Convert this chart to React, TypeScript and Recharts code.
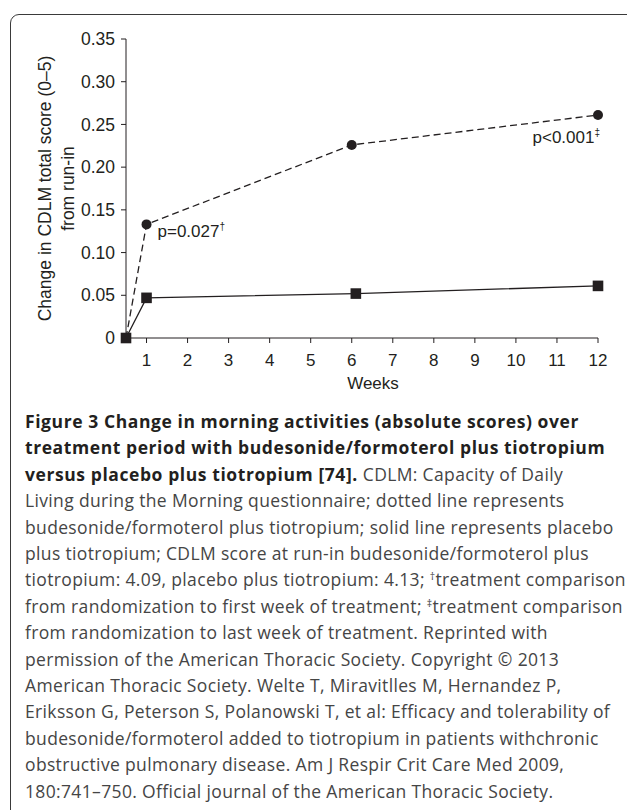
import React from 'react';
import { LineChart, Line, XAxis, YAxis } from 'recharts';

// budesonide/formoterol + tiotropium (dashed, circles)
const budWeeks = [0.5, 1, 6, 12];
const budChange = [0, 0.133, 0.226, 0.261];
const budNotes = ['', 'p=0.027', '', 'p<0.001'];
const budMarks = ['', '†', '', '‡'];

// placebo + tiotropium (solid, squares)
const plaWeeks = [0.5, 1, 6.1, 12];
const plaChange = [0, 0.047, 0.052, 0.061];

const xTicks = [0.5, 1, 2, 3, 4, 5, 6, 7, 8, 9, 10, 11, 12];
const yTicks = [0, 0.05, 0.1, 0.15, 0.2, 0.25, 0.3, 0.35];

const budData = budWeeks.map((w, i) => ({ week: w, change: budChange[i] }));
const plaData = plaWeeks.map((w, i) => ({ week: w, change: plaChange[i] }));

const INK = '#231f20';
const FONT = '"Liberation Sans", Arial, Helvetica, sans-serif';

const captionLines: { bold?: string; text: string }[] = [
  { bold: 'Figure 3 Change in morning activities (absolute scores) over', text: '' },
  { bold: 'treatment period with budesonide/formoterol plus tiotropium', text: '' },
  { bold: 'versus placebo plus tiotropium [74].', text: ' CDLM: Capacity of Daily' },
  { text: 'Living during the Morning questionnaire; dotted line represents' },
  { text: 'budesonide/formoterol plus tiotropium; solid line represents placebo' },
  { text: 'plus tiotropium; CDLM score at run-in budesonide/formoterol plus' },
  { text: 'tiotropium: 4.09, placebo plus tiotropium: 4.13; ^†treatment comparison' },
  { text: 'from randomization to first week of treatment; ^‡treatment comparison' },
  { text: 'from randomization to last week of treatment. Reprinted with' },
  { text: 'permission of the American Thoracic Society. Copyright © 2013' },
  { text: 'American Thoracic Society. Welte T, Miravitlles M, Hernandez P,' },
  { text: 'Eriksson G, Peterson S, Polanowski T, et al: Efficacy and tolerability of' },
  { text: 'budesonide/formoterol added to tiotropium in patients withchronic' },
  { text: 'obstructive pulmonary disease. Am J Respir Crit Care Med 2009,' },
  { text: '180:741–750. Official journal of the American Thoracic Society.' },
];

function renderCaptionText(t: string) {
  const m = t.match(/^(.*)\^(.)(.*)$/);
  if (!m) return t;
  return (
    <>
      {m[1]}
      <sup style={{ fontSize: '0.6em', verticalAlign: '0.55em', lineHeight: 0 }}>{m[2]}</sup>
      {m[3]}
    </>
  );
}

const NoteLabel = (props: any) => {
  const { x, y, index } = props;
  const note = budNotes[index];
  if (!note) return null;
  const last = index === budNotes.length - 1;
  return (
    <text
      x={last ? x + 2 : x + 11}
      y={last ? y + 28 : y + 13}
      textAnchor={last ? 'end' : 'start'}
      fontSize={17}
      fontFamily={FONT}
      fill={INK}
    >
      {note}
      <tspan fontSize={10} dy={-7}>{budMarks[index]}</tspan>
    </text>
  );
};

const SquareDot = (props: any) => {
  const { cx, cy, index } = props;
  return <rect key={`sq-${index}`} x={cx - 5.3} y={cy - 5.3} width={10.6} height={10.6} fill={INK} />;
};

const YLabel = (props: any) => {
  const vb = props.viewBox || { y: 39, height: 299 };
  const cy = vb.y + vb.height / 2;
  return (
    <g fontFamily={FONT} fontSize={17.5} fill={INK}>
      <text x={51} y={cy} textAnchor="middle" transform={`rotate(-90, 51, ${cy})`}>
        Change in CDLM total score (0–5)
      </text>
      <text x={74} y={cy} textAnchor="middle" transform={`rotate(-90, 74, ${cy})`}>
        from run-in
      </text>
    </g>
  );
};

const XLabel = (props: any) => {
  const vb = props.viewBox || { x: 126, y: 338, width: 472 };
  return (
    <text x={vb.x + vb.width / 2 + 11} y={vb.y + 51} textAnchor="middle" fontFamily={FONT} fontSize={17} fill={INK}>
      Weeks
    </text>
  );
};

export default function App() {
  return (
    <div style={{ position: 'absolute', left: 0, top: 0, width: 627, height: 810, overflow: 'hidden', background: '#fff' }}>
      <div
        style={{
          position: 'absolute',
          left: 10,
          top: 14,
          width: 640,
          height: 820,
          border: '1.5px solid #3a3a3a',
          borderRadius: 9,
          boxSizing: 'border-box',
        }}
      />
      <div style={{ position: 'absolute', left: 0, top: 0 }}>
        <LineChart width={627} height={400} margin={{ top: 39, right: 29, bottom: 2, left: 0 }}>
          <XAxis
            type="number"
            dataKey="week"
            domain={[0.5, 12]}
            ticks={xTicks}
            tickFormatter={(v: number) => (v === 0.5 ? '' : String(v))}
            stroke={INK}
            tickSize={5}
            tickMargin={11}
            height={60}
            tick={{ fill: INK, fontSize: 17, fontFamily: FONT }}
            label={<XLabel />}
            allowDuplicatedCategory={false}
          />
          <YAxis
            type="number"
            domain={[0, 0.35]}
            ticks={yTicks}
            tickFormatter={(v: number) => (v === 0 ? '0' : v.toFixed(2))}
            stroke={INK}
            tickSize={5}
            tickMargin={6}
            width={126}
            tick={{ fill: INK, fontSize: 17.5, fontFamily: FONT }}
            label={<YLabel />}
          />
          <Line
            data={budData}
            dataKey="change"
            type="linear"
            stroke={INK}
            strokeWidth={1.3}
            strokeDasharray="7 4"
            dot={{ r: 5, fill: INK, stroke: 'none' }}
            label={<NoteLabel />}
            isAnimationActive={false}
          />
          <Line
            data={plaData}
            dataKey="change"
            type="linear"
            stroke={INK}
            strokeWidth={1.3}
            dot={<SquareDot />}
            isAnimationActive={false}
          />
        </LineChart>
      </div>
      <div
        style={{
          position: 'absolute',
          left: 25,
          top: 408,
          fontFamily: '"Open Sans", "Noto Sans", sans-serif',
          fontSize: 17.5,
          letterSpacing: 0.35,
          lineHeight: '26.4px',
          color: '#454545',
          whiteSpace: 'nowrap',
        }}
      >
        {captionLines.map((l, i) => (
          <div key={i}>
            {l.bold && <span style={{ fontWeight: 700, color: INK, letterSpacing: 0.58 }}>{l.bold}</span>}
            {renderCaptionText(l.text)}
          </div>
        ))}
      </div>
    </div>
  );
}
